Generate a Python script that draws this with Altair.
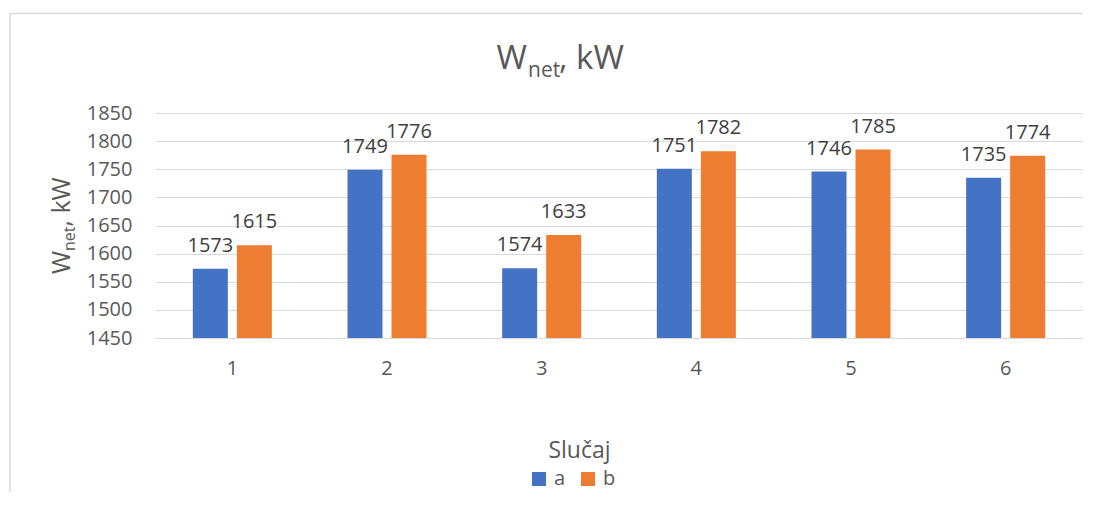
import altair as alt
import pandas as pd

cases = ["1", "2", "3", "4", "5", "6"]
series_a = [1573, 1749, 1574, 1751, 1746, 1735]
series_b = [1615, 1776, 1633, 1782, 1785, 1774]
series_names = ["a", "b"]
series_colors = ["#4472C4", "#ED7D31"]
y_ticks = [1450, 1500, 1550, 1600, 1650, 1700, 1750, 1800, 1850]
x_title = "Slučaj"
title_parts = ["W", "net", ", kW"]

rows = []
for c, va, vb in zip(cases, series_a, series_b):
    rows.append({"case": c, "series": "a", "value": va})
    rows.append({"case": c, "series": "b", "value": vb})
df = pd.DataFrame(rows)

GRAY = "#595959"
FONT = "Open Sans"

x_enc = alt.X(
    "case:N",
    sort=cases,
    scale=alt.Scale(paddingInner=0.489, paddingOuter=0.2446),
    axis=alt.Axis(
        title=x_title,
        titleX=424, titleY=119, titleAlign="center", titleBaseline="alphabetic",
        titleFontSize=23, titleFontWeight="normal", titleColor=GRAY,
        labelAngle=0, labelFontSize=20, labelColor=GRAY, labelPadding=20,
        ticks=False, domainColor="#d9d9d9", domainWidth=1, grid=False,
    ),
)
xoff = alt.XOffset("series:N", sort=series_names,
                   scale=alt.Scale(paddingInner=0.2045, paddingOuter=0))
y_enc = alt.Y(
    "value:Q",
    scale=alt.Scale(domain=[1450, 1850], nice=False, zero=False),
    axis=alt.Axis(
        values=y_ticks, title=None, domain=False, ticks=False, format="d",
        labelPadding=23, labelFontSize=20, labelColor=GRAY,
        grid=True, gridColor="#d9d9d9", gridWidth=1,
    ),
)

base = alt.Chart(df)
bars = base.mark_bar().encode(
    x=x_enc, xOffset=xoff, y=y_enc, y2=alt.datum(1450),
    color=alt.Color(
        "series:N",
        scale=alt.Scale(domain=series_names, range=series_colors),
        legend=alt.Legend(
            orient="none", legendX=374, legendY=356, direction="horizontal",
            title=None, symbolType="square", symbolSize=196, symbolStrokeWidth=0,
            labelFontSize=20, labelColor=GRAY, labelOffset=5, columnPadding=12,
            padding=0,
        ),
    ),
)
labels = base.mark_text(baseline="alphabetic", dy=-17, fontSize=20, color="#404040").encode(
    x=x_enc, xOffset=xoff, y=y_enc, text=alt.Text("value:Q", format="d")
)

one = pd.DataFrame({"k": [0]})

def txt(s, x, y, size, align="left", angle=0):
    return alt.Chart(one).mark_text(
        text=s, align=align, baseline="alphabetic", fontSize=size,
        color=GRAY, angle=angle, font=FONT,
    ).encode(x=alt.value(x), y=alt.value(y))

title_layers = [
    txt(title_parts[0], 372, -44, 33, align="right"),
    txt(title_parts[1], 373, -36.5, 21),
    txt(title_parts[2], 404, -44, 33),
    # y-axis title (rotated)
    txt(title_parts[0], -85, 161, 25, angle=270),
    txt(title_parts[1], -80, 138, 16, angle=270),
    txt(title_parts[2], -85, 113.5, 25, angle=270),
]

frame_top = alt.Chart(one).mark_rule(color="#d9d9d9", strokeWidth=1.5).encode(
    x=alt.value(-145), x2=alt.value(936), y=alt.value(-99.5)
)
frame_left = alt.Chart(one).mark_rule(color="#d9d9d9", strokeWidth=1.5).encode(
    x=alt.value(-145), y=alt.value(-99.5), y2=alt.value(400)
)

chart = alt.layer(frame_top, frame_left, bars, labels, *title_layers).properties(
    width=928, height=225,
    autosize=alt.AutoSizeParams(type="none"),
    padding={"left": 147, "top": 105, "right": 0, "bottom": 154},
).configure(font=FONT).configure_view(stroke=None)

chart.save("out.html", embed_options={"renderer": "svg", "actions": False})
